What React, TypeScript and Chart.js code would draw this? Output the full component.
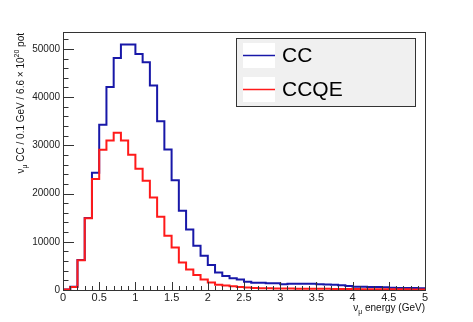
import React, { useEffect, useRef } from "react";
import { Chart, registerables } from "chart.js";

Chart.register(...registerables);

// ---- data (bin width 0.1 GeV, bins from 0 to 5 GeV) ----
const binWidth = 0.1;
const binStart = 0;
const ccValues = [
  100, 650, 6200, 14950, 24300, 34250, 42100, 48100, 50900, 50900,
  48950, 47250, 42400, 35000, 29150, 22750, 16450, 12560, 9150, 7100,
  5200, 3650, 2900, 2450, 2200, 1700, 1500, 1480, 1400, 1380,
  1200, 1280, 1300, 1300, 1280, 1200, 1150, 1100, 1000, 850,
  650, 650, 600, 600, 580, 450, 430, 420, 400, 380,
];
const ccqeValues = [
  100, 600, 6150, 14900, 23000, 29100, 31000, 32600, 31000, 28050,
  25150, 22650, 19200, 15180, 11230, 8800, 5700, 4240, 3120, 2160,
  1550, 1100, 950, 780, 620, 500, 420, 380, 350, 330,
  300, 290, 280, 270, 260, 250, 240, 230, 220, 200,
  190, 180, 170, 160, 150, 140, 135, 130, 125, 120,
];
const xTickValues = [0, 0.5, 1, 1.5, 2, 2.5, 3, 3.5, 4, 4.5, 5];
const yTickValues = [0, 10000, 20000, 30000, 40000, 50000];
const seriesLabels = ["CC", "CCQE"];
const seriesColors = ["#1818a8", "#ff1a1a"];
const xMin = 0;
const xMax = 5;
const yMax = 53500;

const FONT = "'Liberation Sans', Arial, Helvetica, sans-serif";

type Seg = { t: string; size: number; dy: number };

function richWidth(ctx: CanvasRenderingContext2D, segs: Seg[]) {
  let w = 0;
  for (const s of segs) {
    ctx.font = `${s.size}px ${FONT}`;
    w += ctx.measureText(s.t).width;
  }
  return w;
}
function drawRich(ctx: CanvasRenderingContext2D, segs: Seg[], x: number, y: number) {
  let cx = x;
  ctx.textAlign = "left";
  ctx.textBaseline = "alphabetic";
  for (const s of segs) {
    ctx.font = `${s.size}px ${FONT}`;
    ctx.fillText(s.t, cx, y + s.dy);
    cx += ctx.measureText(s.t).width;
  }
}

const yTitleSegs: Seg[] = [
  { t: "ν", size: 10, dy: 0 },
  { t: "μ", size: 7, dy: 3 },
  { t: " CC / 0.1 GeV / 6.6 × 10", size: 10, dy: 0 },
  { t: "20", size: 7, dy: -5 },
  { t: " pot", size: 10, dy: 0 },
];
const xTitleSegs: Seg[] = [
  { t: "ν", size: 10, dy: 0 },
  { t: "μ", size: 7, dy: 3 },
  { t: " energy (GeV)", size: 10, dy: 0 },
];

function toSteps(values: number[]) {
  const pts = values.map((v, i) => ({ x: +(binStart + i * binWidth).toFixed(2), y: v }));
  pts.push({ x: +(binStart + values.length * binWidth).toFixed(2), y: values[values.length - 1] });
  return pts;
}

const decorPlugin = {
  id: "rootDecor",
  afterDraw(chart: any) {
    const ctx: CanvasRenderingContext2D = chart.ctx;
    const { left, right, top, bottom } = chart.chartArea;
    const xs = chart.scales.x;
    const ys = chart.scales.y;
    ctx.save();
    // frame
    ctx.strokeStyle = "#333";
    ctx.lineWidth = 1;
    ctx.strokeRect(Math.round(left) + 0.5, Math.round(top) + 0.5, Math.round(right - left), Math.round(bottom - top));
    // y ticks
    ctx.beginPath();
    for (let v = 0; v <= yMax; v += 2000) {
      const p = Math.round(ys.getPixelForValue(v)) + 0.5;
      const len = v % 10000 === 0 ? 11 : 5.5;
      ctx.moveTo(left, p);
      ctx.lineTo(left + len, p);
    }
    // x ticks
    for (let i = 0; i <= 50; i++) {
      const v = i * 0.1;
      const p = Math.round(xs.getPixelForValue(v)) + 0.5;
      const len = i % 5 === 0 ? 8 : 4;
      ctx.moveTo(p, bottom);
      ctx.lineTo(p, bottom - len);
    }
    ctx.stroke();

    // axis titles
    ctx.fillStyle = "#111";
    const xw = richWidth(ctx, xTitleSegs);
    drawRich(ctx, xTitleSegs, right - xw, 311);
    const yw = richWidth(ctx, yTitleSegs);
    ctx.save();
    ctx.translate(23.5, top + 1);
    ctx.rotate(-Math.PI / 2);
    drawRich(ctx, yTitleSegs, -yw, 0);
    ctx.restore();

    // legend
    const lx = 236.5, ly = 38.5, lw = 179, lh = 68;
    ctx.fillStyle = "#f0f0f0";
    ctx.fillRect(lx, ly, lw, lh);
    ctx.strokeStyle = "#333";
    ctx.strokeRect(lx, ly, lw, lh);
    const rows = [55.5, 89.5];
    seriesLabels.forEach((lab, i) => {
      const cy = rows[i];
      ctx.fillStyle = "#ffffff";
      ctx.fillRect(243, cy - 12.5, 32, 25);
      ctx.strokeStyle = seriesColors[i];
      ctx.lineWidth = 1.5;
      ctx.beginPath();
      ctx.moveTo(243, cy);
      ctx.lineTo(275, cy);
      ctx.stroke();
      ctx.fillStyle = "#000";
      ctx.font = `21px ${FONT}`;
      ctx.textAlign = "left";
      ctx.textBaseline = "middle";
      ctx.fillText(lab, 282, cy + 1);
    });
    ctx.restore();
  },
};

export default function App() {
  const ref = useRef<HTMLCanvasElement | null>(null);
  useEffect(() => {
    if (!ref.current) return;
    const chart = new Chart(ref.current, {
      type: "line",
      data: {
        datasets: [
          {
            label: seriesLabels[1],
            data: toSteps(ccqeValues),
            borderColor: seriesColors[1],
            borderWidth: 2,
            stepped: "before",
            pointRadius: 0,
            fill: false,
          },
          {
            label: seriesLabels[0],
            data: toSteps(ccValues),
            borderColor: seriesColors[0],
            borderWidth: 2,
            stepped: "before",
            pointRadius: 0,
            fill: false,
          },
        ],
      },
      options: {
        responsive: false,
        maintainAspectRatio: false,
        devicePixelRatio: 1,
        animation: false,
        layout: { padding: { left: 0, top: 32, right: 48, bottom: 0 } },
        plugins: { legend: { display: false }, tooltip: { enabled: false } },
        scales: {
          x: {
            type: "linear",
            min: xMin,
            max: xMax,
            afterFit: (s: any) => {
              s.height = 32;
            },
            grid: { display: false, drawTicks: false },
            border: { display: false },
            afterBuildTicks: (s: any) => {
              s.ticks = xTickValues.map((v) => ({ value: v }));
            },
            ticks: {
              autoSkip: false,
              maxRotation: 0,
              padding: 1,
              color: "#222",
              font: { family: FONT, size: 11 },
              callback: (v: any) => String(+Number(v).toFixed(1)),
            },
          },
          y: {
            type: "linear",
            min: 0,
            max: yMax,
            afterFit: (s: any) => {
              s.width = 63;
            },
            grid: { display: false, drawTicks: false },
            border: { display: false },
            afterBuildTicks: (s: any) => {
              s.ticks = yTickValues.map((v) => ({ value: v }));
            },
            ticks: {
              padding: 3,
              color: "#222",
              font: { family: FONT, size: 10 },
              callback: (v: any) => String(v),
            },
          },
        },
      },
      plugins: [decorPlugin],
    } as any);
    return () => chart.destroy();
  }, []);
  return (
    <div style={{ position: "absolute", left: 0, top: 0, width: 473, height: 322 }}>
      <canvas ref={ref} width={473} height={322} style={{ display: "block" }} />
    </div>
  );
}
